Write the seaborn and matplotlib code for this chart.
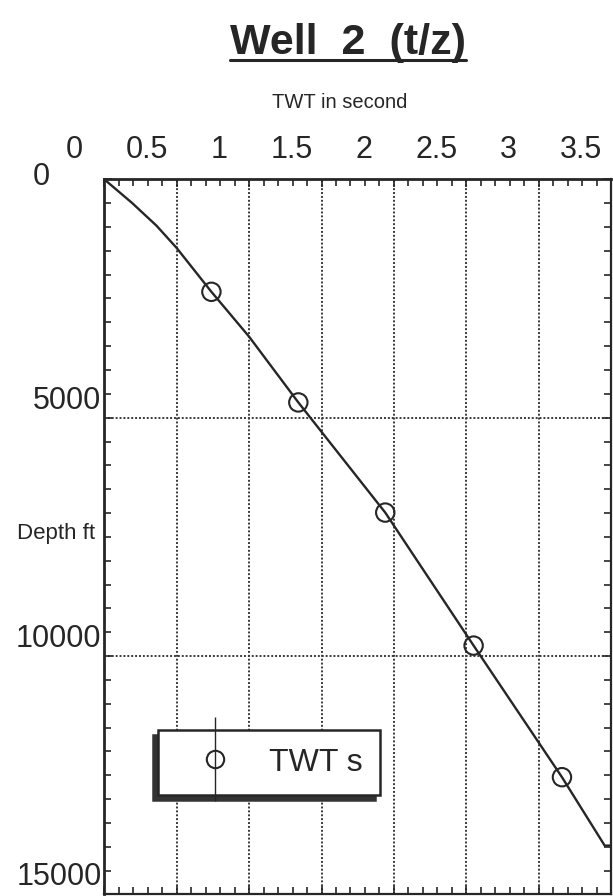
import matplotlib
matplotlib.use('Agg')
import matplotlib.pyplot as plt
import matplotlib.transforms as mtrans
from matplotlib.lines import Line2D
from matplotlib.legend_handler import HandlerTuple
from matplotlib.ticker import MultipleLocator, FixedLocator, FixedFormatter
import seaborn as sns

# ---- data ----
twt_curve = [0.0, 0.19, 0.36, 0.50, 0.74, 1.00, 1.34, 1.94, 2.55, 3.16, 3.455, 3.5]
depth_curve = [0, 490, 970, 1440, 2360, 3300, 4680, 6990, 9780, 12540, 13975, 13975]
twt_marks = [0.74, 1.34, 1.94, 2.55, 3.16]
depth_marks = [2360, 4680, 6990, 9780, 12540]
x_ticks = [0, 0.5, 1, 1.5, 2, 2.5, 3, 3.5]
x_tick_labels = ["0", "0.5", "1", "1.5", "2", "2.5", "3", "3.5"]
y_ticks = [0, 5000, 10000, 15000]
y_tick_labels = ["0", "5000", "10000", "15000"]
legend_label = "TWT s"

sns.set_style('ticks')
plt.rcParams['font.family'] = ['Liberation Sans', 'DejaVu Sans']
ink = '#262626'

fig = plt.figure(figsize=(6.13, 8.96), dpi=100)
ax = fig.add_axes([0.170, 0.0017, 0.8271, 0.7982])

sns.lineplot(x=twt_curve, y=depth_curve, sort=False, estimator=None,
             color=ink, linewidth=1.7, ax=ax, zorder=3)
sns.scatterplot(x=twt_marks, y=depth_marks, marker='o', s=175,
                facecolor='none', edgecolor=ink, linewidth=1.5, ax=ax, zorder=4)

ax.set_xlim(0, 3.5)
ax.set_ylim(15000, 0)

ax.xaxis.set_major_locator(FixedLocator(x_ticks))
ax.xaxis.set_major_formatter(FixedFormatter(x_tick_labels))
ax.xaxis.set_minor_locator(MultipleLocator(0.1))
ax.yaxis.set_major_locator(FixedLocator(y_ticks))
ax.yaxis.set_major_formatter(FixedFormatter(y_tick_labels))
ax.yaxis.set_minor_locator(MultipleLocator(500))

ax.grid(True, which='major', linestyle=(0, (1, 1.0)), linewidth=1.4, color='#3a3a3a')

ax.tick_params(which='both', direction='in', top=True, bottom=True, left=True, right=True,
               labeltop=True, labelbottom=False, color=ink, labelcolor=ink, width=1.2)
ax.tick_params(which='major', length=6)
ax.tick_params(which='minor', length=5)
ax.tick_params(axis='x', which='major', pad=10, labelsize=22)
ax.tick_params(axis='y', which='major', pad=2, labelsize=22)

for name, s in ax.spines.items():
    s.set_color(ink)
    s.set_linewidth(2.0 if name in ('left', 'top') else 1.6)

# label offsets as in the reference scan
for lbl in ax.get_xticklabels():
    lbl.set_transform(lbl.get_transform() + mtrans.ScaledTranslation(-0.30, 0, fig.dpi_scale_trans))
for i, lbl in enumerate(ax.get_yticklabels()):
    lbl.set_verticalalignment('bottom')
    dx, dy = (-0.52, -0.13) if i == 0 else (0, 0.02)
    lbl.set_transform(lbl.get_transform() + mtrans.ScaledTranslation(dx, dy, fig.dpi_scale_trans))

ax.xaxis.set_label_position('top')
ax.set_xlabel('TWT in second', fontsize=14.5, color=ink, va='center')
ax.xaxis.set_label_coords(0.465, 1.108)
ax.set_ylabel('Depth ft', rotation=0, fontsize=16, color=ink, ha='center', va='center')
ax.yaxis.set_label_coords(-0.095, 0.505)

h_circ = Line2D([], [], marker='o', ls='none', mfc='none', mec=ink, ms=12.5, mew=1.5)
h_bar = Line2D([], [], marker='|', ls='none', color=ink, ms=61, mew=1.0)
leg = ax.legend([(h_circ, h_bar)], [legend_label],
                handler_map={tuple: HandlerTuple(ndivide=1)},
                loc='upper left', bbox_to_anchor=(0.106, 0.230), borderaxespad=0,
                frameon=True, fancybox=False, edgecolor=ink, framealpha=1,
                fontsize=23, borderpad=0.55, handlelength=2.46, handletextpad=0.47,
                shadow={'ox': -3.6, 'oy': -3.6, 'facecolor': '#333333',
                        'edgecolor': '#333333', 'alpha': 1})
leg.get_frame().set_linewidth(1.8)
for t in leg.get_texts():
    t.set_color(ink)

title = fig.text(348 / 613, 1 - 54 / 896, 'Well  2  (t/z)', fontsize=31, fontweight='bold',
                 ha='center', va='baseline', color=ink)
fig.canvas.draw()
bb = title.get_window_extent()
W, H = fig.bbox.width, fig.bbox.height
uy = 1 - 60 / 896
fig.add_artist(Line2D([bb.x0 / W, bb.x1 / W], [uy, uy], transform=fig.transFigure,
                      color=ink, linewidth=2.2))

fig.savefig('out.png', dpi=100)
